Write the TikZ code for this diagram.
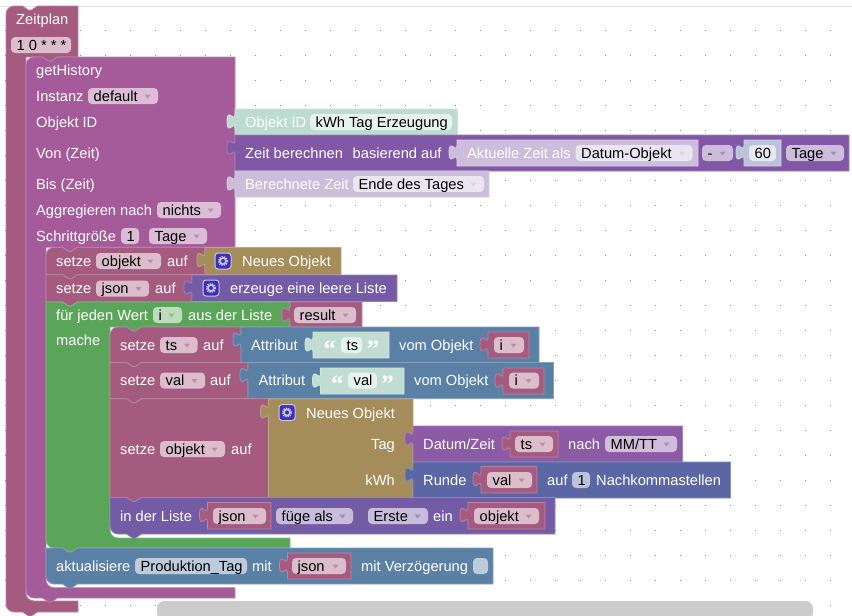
\documentclass[tikz,border=0pt]{standalone}
\usepackage{fontspec}
\setmainfont{Liberation Sans}
\newfontfamily\qfont{Liberation Serif}
\definecolor{cZeit}{HTML}{A55B80}
\definecolor{cHist}{HTML}{A55B99}
\definecolor{cGreen}{HTML}{5BA55B}
\definecolor{cBlue}{HTML}{5B80A5}
\definecolor{cGold}{HTML}{A58C5B}
\definecolor{cList}{HTML}{745BA5}
\definecolor{cCalc}{HTML}{8058A5}
\definecolor{cDate}{HTML}{8C5BA5}
\definecolor{cRound}{HTML}{5B67A5}
\definecolor{cTeal}{HTML}{BDDBD1}
\definecolor{cStr}{HTML}{C1DDD3}
\definecolor{cPale}{HTML}{CCBDDB}
\definecolor{cNum}{HTML}{BDC2DB}
\definecolor{fZeit}{HTML}{DBBDCC}
\definecolor{fHist}{HTML}{DBBDD6}
\definecolor{fGreen}{HTML}{BDDBBD}
\definecolor{fList}{HTML}{C7BDDB}
\definecolor{fCalc}{HTML}{CCBDDB}
\definecolor{fDate}{HTML}{D1BDDB}
\definecolor{fBlue}{HTML}{BDCCDB}
\definecolor{fRound}{HTML}{BDC2DB}
\definecolor{fTealL}{HTML}{E6F2ED}
\definecolor{fPaleL}{HTML}{EBE5F1}
\definecolor{fNumL}{HTML}{E6E8F2}
\definecolor{cIcon}{HTML}{3B30BD}
\definecolor{cIconB}{HTML}{CFC6E0}
\definecolor{cDot}{HTML}{8C8C8C}
\definecolor{cRule}{HTML}{E2E2E2}
\definecolor{cBar}{HTML}{CCCCCC}
\newcount\txtc
\tikzset{
  blockedge/.style={line width=.8pt,line join=round},
  lbltext/.style={inner sep=0pt,text=white,font=\fontsize{14.67}{16}\selectfont},
  fldtext/.style={inner sep=0pt,text=black,font=\fontsize{14.67}{16}\selectfont},
  qtext/.style={inner sep=0pt,text=white,font=\qfont\bfseries\fontsize{25}{25}\selectfont},
  gridmark/.style={fill=cDot,draw=none}
}
% C-shaped block: x1 y1 xr yend xi ybar ybot col tl
\newcommand{\cblk}[9]{%
  \pgfmathsetmacro\nA{#1+16.5}\pgfmathsetmacro\nB{#1+22.5}\pgfmathsetmacro\nC{#1+25.5}\pgfmathsetmacro\nD{#1+31.5}%
  \pgfmathsetmacro\iA{#5+16.5}\pgfmathsetmacro\iB{#5+22.5}\pgfmathsetmacro\iC{#5+25.5}\pgfmathsetmacro\iD{#5+31.5}%
  \filldraw[blockedge,fill=#8,draw=#8!75!white]
   (#1,#2+#9) .. controls (#1,#2+.45*#9) and (#1+.45*#9,#2) .. (#1+#9,#2) -- (\nA,#2) -- (\nB,#2+4) -- (\nC,#2+4) -- (\nD,#2) -- (#3,#2)
   -- (#3,#4) -- (\iD,#4) -- (\iC,#4+4) -- (\iB,#4+4) -- (\iA,#4) -- (#5,#4)
   -- (#5,#6-8) .. controls (#5,#6-3.6) and (#5+3.6,#6) .. (#5+8,#6) -- (#3,#6) -- (#3,#7)
   -- (\nD,#7) -- (\nC,#7+4) -- (\nB,#7+4) -- (\nA,#7) -- (#1+8,#7) .. controls (#1+3.6,#7) and (#1,#7-3.6) .. (#1,#7-8) -- cycle;}
% statement block: x1 y1 x2 y2 col tl bl
\newcommand{\sblk}[7]{%
  \pgfmathsetmacro\nA{#1+16.5}\pgfmathsetmacro\nB{#1+22.5}\pgfmathsetmacro\nC{#1+25.5}\pgfmathsetmacro\nD{#1+31.5}%
  \filldraw[blockedge,fill=#5,draw=#5!75!white]
   (#1,#2+#6) .. controls (#1,#2+.45*#6) and (#1+.45*#6,#2) .. (#1+#6,#2) -- (\nA,#2) -- (\nB,#2+4) -- (\nC,#2+4) -- (\nD,#2) -- (#3,#2)
   -- (#3,#4) -- (\nD,#4) -- (\nC,#4+4) -- (\nB,#4+4) -- (\nA,#4) -- (#1+#7,#4)
   .. controls (#1+.45*#7,#4) and (#1,#4-.45*#7) .. (#1,#4-#7) -- cycle;}
% value block with a left tab: x1 y1 x2 y2 col
\newcommand{\vblk}[5]{%
  \filldraw[blockedge,fill=#5,draw=#5!75!white]
   (#1,#2) -- (#3,#2) -- (#3,#4) -- (#1,#4) -- (#1,#2+20)
   .. controls (#1,#2+10) and (#1-8,#2+28) .. (#1-8,#2+12.5)
   .. controls (#1-8,#2-3) and (#1,#2+15) .. (#1,#2+5) -- cycle;}
% texts
\newcommand{\lbl}[3]{\global\advance\txtc by 1 \node[lbltext,anchor=base west] (t\the\txtc) at (#1,#2+5) {#3};}
\newcommand{\rlbl}[3]{\global\advance\txtc by 1 \node[lbltext,anchor=base east] (t\the\txtc) at (#1,#2+5) {#3};}
% text field: x1 x2 cy fill text
\newcommand{\fld}[5]{\global\advance\txtc by 1
  \fill[#4,rounded corners=4pt] (#1,#3-8) rectangle (#2,#3+8);
  \node[fldtext,anchor=base west] (t\the\txtc) at (#1+5.5,#3+5) {#5};}
% dropdown: x1 x2 cy fill text arrow
\newcommand{\dd}[6]{\fld{#1}{#2}{#3}{#4}{#5}
  \fill[#6!70!white] (#2-13.5,#3-1.5) -- (#2-7.5,#3-1.5) -- (#2-10.5,#3+2.5) -- cycle;}
% gear icon: cx cy
\newcommand{\gearicon}[2]{%
  \filldraw[fill=cIcon,draw=cIconB,line width=1pt,rounded corners=3pt] (#1-8,#2-8) rectangle (#1+8,#2+8);
  \draw[cIconB,line width=1.5pt,dash pattern=on 1.3pt off 1.06pt] (#1,#2) circle[radius=4.4];
  \draw[cIconB,line width=1.5pt] (#1,#2) circle[radius=3];}
\begin{document}
\begin{tikzpicture}[x=1pt,y=-1pt]
\useasboundingbox (0,0) rectangle (852,616);
\fill[white] (0,0) rectangle (852,616);
\fill[cRule] (0,5.5) rectangle (852,7);
\foreach \gx in {5,30,...,830} \foreach \gy in {30,55,...,605}
  \fill[gridmark] (\gx,\gy) rectangle (\gx+1,\gy+1);
\fill[cBar,rounded corners=7.5pt] (157,601) rectangle (813,620);

% Zeitplan
\cblk{6}{6}{78}{57}{26}{601}{612}{cZeit}{8}
\lbl{16}{19}{Zeitplan}
\fld{11}{71}{45}{fZeit}{1 0 * * *}

% getHistory
\cblk{26}{57}{235}{247.3}{46}{587.7}{598}{cHist}{8}
\lbl{36}{70}{getHistory}
\lbl{36}{96}{Instanz}
\dd{88}{158}{96}{fHist}{default}{cHist}
\lbl{36}{122}{Objekt ID}
\lbl{36}{153}{Von (Zeit)}
\lbl{36}{184}{Bis (Zeit)}
\lbl{36}{210}{Aggregieren nach}
\dd{157}{221}{210}{fHist}{nichts}{cHist}
\lbl{36}{236}{Schrittgröße}
\fld{121}{139}{236}{fHist}{1}
\dd{149}{207}{236}{fHist}{Tage}{cHist}

% Objekt ID
\vblk{235}{109}{457.5}{135}{cTeal}
\lbl{245}{122}{Objekt ID}
\fld{310}{452}{122}{fTealL}{kWh Tag Erzeugung}

% Zeit berechnen
\vblk{235}{135}{849}{171}{cCalc}
\lbl{245}{153}{Zeit berechnen}
\lbl{352.5}{153}{basierend auf}
\vblk{457}{140}{698}{166}{cPale}
\lbl{467}{153}{Aktuelle Zeit als}
\dd{575.5}{692.5}{153}{fPaleL}{Datum-Objekt}{cPale}
\dd{702}{733}{153}{fCalc}{-}{cCalc}
\vblk{744}{140}{781}{166}{cNum}
\fld{749}{776}{153}{fNumL}{60}
\dd{786}{844}{153}{fCalc}{Tage}{cCalc}

% Berechnete Zeit
\vblk{235}{171}{489}{197}{cPale}
\lbl{245}{184}{Berechnete Zeit}
\dd{353}{484}{184}{fPaleL}{Ende des Tages}{cPale}

% setze objekt
\sblk{46}{247.3}{205}{274.7}{cZeit}{8}{0}
\lbl{56}{261}{setze}
\dd{96}{161}{261}{fZeit}{objekt}{cZeit}
\lbl{167}{261}{auf}
\vblk{205}{247.5}{341}{274.5}{cGold}
\gearicon{223}{261}
\lbl{242}{261}{Neues Objekt}

% setze json
\sblk{46}{274.7}{192}{302}{cZeit}{0}{0}
\lbl{56}{288.5}{setze}
\dd{96}{149}{288.5}{fZeit}{json}{cZeit}
\lbl{155}{288.5}{auf}
\vblk{192}{275}{397}{301.5}{cList}
\gearicon{211}{288}
\lbl{230}{288.5}{erzeuge eine leere Liste}

% for each
\cblk{46}{302}{290}{327}{110}{538}{548}{cGreen}{0}
\lbl{56}{315}{für jeden Wert}
\dd{153}{182}{315}{fGreen}{i}{cGreen}
\lbl{188}{315}{aus der Liste}
\lbl{56}{340}{mache}
\vblk{290}{302}{362}{327}{cZeit}
\dd{294}{356}{315}{fZeit}{result}{cZeit}

% setze ts
\sblk{110}{327}{241}{362.5}{cZeit}{8}{0}
\lbl{120}{345}{setze}
\dd{160}{197.5}{345}{fZeit}{ts}{cZeit}
\lbl{203}{345}{auf}
\vblk{241}{327}{539}{362.5}{cBlue}
\lbl{251}{345}{Attribut}
\vblk{313}{332}{389}{358}{cStr}
\node[qtext,anchor=base west] (q1) at (323.5,357) {“};
\fld{341}{362}{345}{fTealL}{ts}
\node[qtext,anchor=base east] (q2) at (379.5,357) {”};
\lbl{399}{345}{vom Objekt}
\vblk{488}{332}{529}{358}{cZeit}
\dd{494}{524}{345}{fZeit}{i}{cZeit}

% setze val
\sblk{110}{362.5}{248}{398.7}{cZeit}{0}{0}
\lbl{120}{380.5}{setze}
\dd{160}{205}{380.5}{fZeit}{val}{cZeit}
\lbl{210}{380.5}{auf}
\vblk{248}{362.5}{553.5}{398.7}{cBlue}
\lbl{258.5}{380.5}{Attribut}
\vblk{320.5}{368}{404}{394}{cStr}
\node[qtext,anchor=base west] (q3) at (331,392.5) {“};
\fld{348}{377}{380.5}{fTealL}{val}
\node[qtext,anchor=base east] (q4) at (394,392.5) {”};
\lbl{414}{380.5}{vom Objekt}
\vblk{503}{368}{544}{394}{cZeit}
\dd{509}{539}{380.5}{fZeit}{i}{cZeit}

% setze objekt auf (Neues Objekt)
\sblk{110}{398.7}{269}{497.5}{cZeit}{0}{0}
\lbl{120}{449}{setze}
\dd{160}{225}{449}{fZeit}{objekt}{cZeit}
\lbl{231}{449}{auf}
\vblk{268.5}{399}{413}{497.5}{cGold}
\gearicon{287}{412.5}
\lbl{306}{413}{Neues Objekt}
\rlbl{395}{444}{Tag}
\rlbl{395}{480}{kWh}

% Datum/Zeit
\vblk{413}{426}{682.5}{462}{cDate}
\lbl{423}{444}{Datum/Zeit}
\vblk{510}{431}{558}{457}{cZeit}
\dd{515}{553}{444}{fZeit}{ts}{cZeit}
\lbl{568}{444}{nach}
\dd{605}{677}{444}{fDate}{MM/TT}{cDate}

% Runde
\vblk{413}{462}{730.5}{498}{cRound}
\lbl{423}{480}{Runde}
\vblk{481}{466.5}{537}{493}{cZeit}
\dd{487}{532}{480}{fZeit}{val}{cZeit}
\lbl{547}{480}{auf}
\fld{572}{590}{480}{fRound}{1}
\lbl{596}{480}{Nachkommastellen}

% in der Liste
\sblk{110}{497.5}{555}{534}{cList}{0}{8}
\lbl{120}{516}{in der Liste}
\vblk{207.5}{502.5}{271}{529}{cZeit}
\dd{213}{266}{516}{fZeit}{json}{cZeit}
\dd{276}{353}{516}{fList}{füge als}{cList}
\dd{368}{428}{516}{fList}{Erste}{cList}
\lbl{433}{516}{ein}
\vblk{468}{502.5}{545}{529}{cZeit}
\dd{474}{539}{516}{fZeit}{objekt}{cZeit}

% aktualisiere
\sblk{46}{548}{493}{584}{cBlue}{0}{8}
\lbl{56}{566}{aktualisiere}
\fld{135}{247}{566}{fBlue}{Produktion\_Tag}
\lbl{252}{566}{mit}
\vblk{287.5}{553}{351}{579}{cZeit}
\dd{292}{346}{566}{fZeit}{json}{cZeit}
\lbl{361}{566}{mit Verzögerung}
\fill[fBlue,rounded corners=4pt] (473,558) rectangle (488,574);
\end{tikzpicture}
\end{document}
